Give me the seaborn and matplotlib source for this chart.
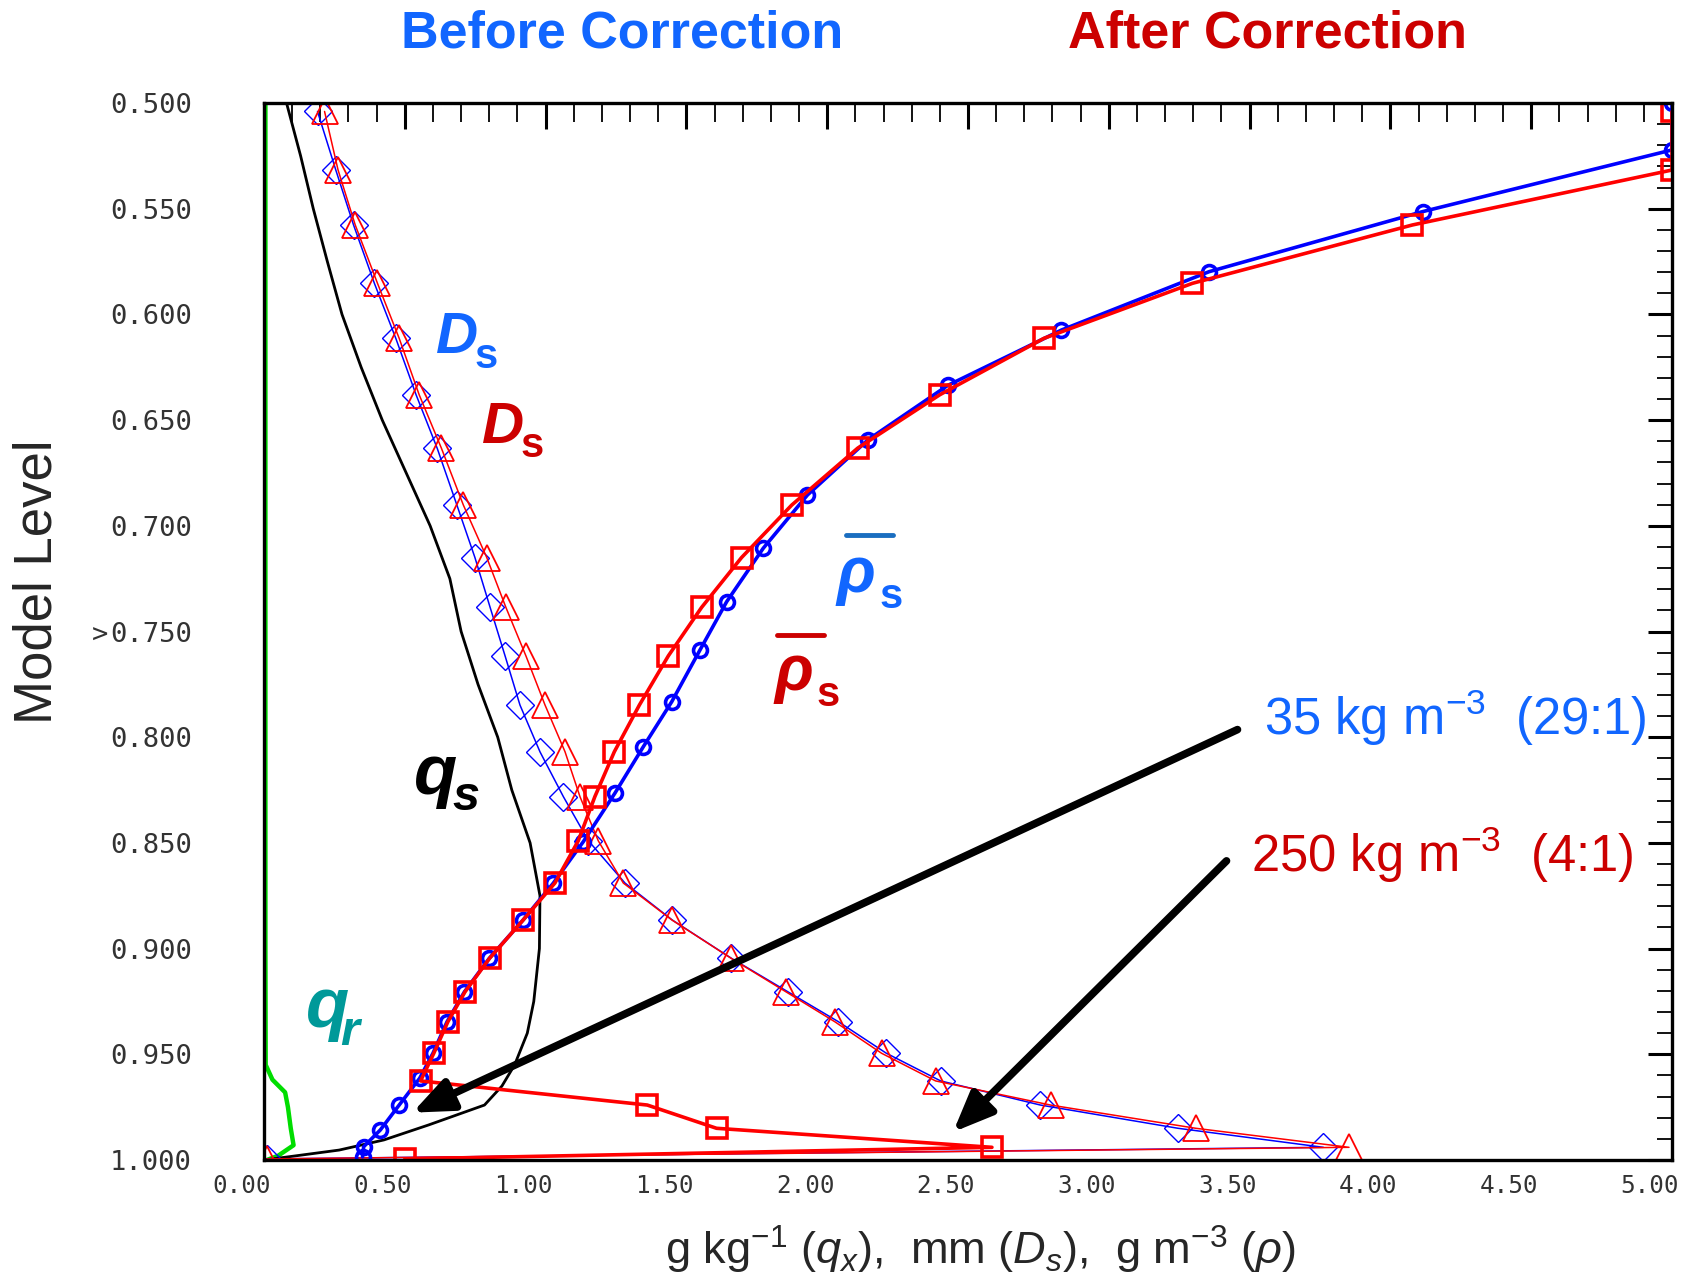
"""
Snow profile chart: before / after density correction.
"""

import numpy as np
import matplotlib
matplotlib.use('Agg')
import matplotlib.pyplot as plt
import matplotlib.transforms as mtrans
from matplotlib.ticker import MultipleLocator, FixedLocator, FixedFormatter
import seaborn as sns

#  Data
#  Model levels used by the "after" profiles and the D_s profiles
levels = [0.504, 0.5317, 0.5577, 0.5853, 0.6113, 0.638, 0.6633, 0.6902, 0.715,
          0.7386, 0.7615, 0.7848, 0.8069, 0.8281, 0.849, 0.869, 0.8865, 0.9046,
          0.9204, 0.9346, 0.9495, 0.9626, 0.974, 0.985, 0.994, 0.9995]

#  Mean snow density after correction (values past 5 are drawn at the edge)
rho_after = [5.0, 5.0, 4.078, 3.297, 2.770, 2.40, 2.108, 1.874, 1.696, 1.554,
             1.436, 1.333, 1.244, 1.175, 1.116, 1.033, 0.920, 0.801, 0.714,
             0.653, 0.603, 0.556, 1.361, 1.607, 2.585, 0.5]

#  Mean snow density before correction, on its own levels
rho_before_lev = [0.50, 0.5222, 0.5514, 0.5798, 0.6074, 0.6336, 0.6592, 0.6854,
                  0.7106, 0.7359, 0.7588, 0.7832, 0.8045, 0.8265, 0.8494, 0.8691,
                  0.8865, 0.9046, 0.9204, 0.9346, 0.9495, 0.9613, 0.974, 0.9858,
                  0.9937, 0.9985]
rho_before = [5.0, 5.0, 4.114, 3.356, 2.832, 2.428, 2.146, 1.93, 1.773, 1.643,
              1.548, 1.448, 1.347, 1.246, 1.134, 1.027, 0.92, 0.80, 0.712, 0.65,
              0.60, 0.553, 0.48, 0.413, 0.354, 0.35]

#  Snow diameter D_s
ds_after = [0.215, 0.263, 0.324, 0.403, 0.480, 0.551, 0.630, 0.708, 0.791, 0.859,
            0.930, 0.998, 1.069, 1.122, 1.187, 1.276, 1.449, 1.659, 1.853, 2.027,
            2.193, 2.385, 2.793, 3.309, 3.853, 0.01]
ds_before = [0.19, 0.255, 0.318, 0.392, 0.468, 0.54, 0.615, 0.685, 0.749, 0.803,
             0.856, 0.909, 0.980, 1.063, 1.152, 1.282, 1.45, 1.66, 1.86, 2.04,
             2.21, 2.403, 2.757, 3.246, 3.762, 0.01]

#  Snow mixing ratio q_s
qs_lev = [0.5, 0.525, 0.55, 0.575, 0.6, 0.625, 0.65, 0.675, 0.7, 0.725, 0.75,
          0.775, 0.8, 0.825, 0.85, 0.875, 0.9, 0.925, 0.94, 0.955, 0.965, 0.974,
          0.9834, 0.9905, 0.9953, 0.9984, 1.0]
qs = [0.08, 0.13, 0.175, 0.225, 0.277, 0.345, 0.42, 0.505, 0.59, 0.66, 0.70,
      0.76, 0.83, 0.88, 0.945, 0.98, 0.978, 0.958, 0.935, 0.89, 0.845, 0.783,
      0.585, 0.426, 0.267, 0.092, 0.0]

#  Rain mixing ratio q_r
qr_lev = [0.5, 0.9, 0.955, 0.962, 0.968, 0.975, 0.985, 0.993, 0.998, 1.0]
qr = [0.005, 0.005, 0.006, 0.03, 0.075, 0.085, 0.095, 0.105, 0.05, 0.01]

#  Tick labels
y_ticks = [0.50, 0.55, 0.60, 0.65, 0.70, 0.75, 0.80, 0.85, 0.90, 0.95, 1.00]
y_labels = ['0.500', '0.550', '0.600', '0.650', '0.700', '0.750', '0.800',
            '0.850', '0.900', '0.950', '1.000']
x_ticks = [0.0, 0.5, 1.0, 1.5, 2.0, 2.5, 3.0, 3.5, 4.0, 4.5, 5.0]
x_labels = ['0.00', '0.50', '1.00', '1.50', '2.00', '2.50', '3.00', '3.50',
            '4.00', '4.50', '5.00']

#  Colours
BLUE_TXT = '#1166ff'
RED_TXT = '#cc0000'

#%%
sns.set_style('white')
plt.rcParams['font.family'] = ['Liberation Sans', 'DejaVu Sans']
plt.rcParams['mathtext.fontset'] = 'custom'
plt.rcParams['mathtext.rm'] = 'Liberation Sans'
plt.rcParams['mathtext.it'] = 'Liberation Sans:italic'
plt.rcParams['mathtext.bf'] = 'Liberation Sans:bold'

W, H = 1702, 1278
fig = plt.figure(figsize=(W / 100, H / 100), dpi=100)
ax = fig.add_axes([264 / W, 1 - 1160 / H, (1672 - 264) / W, (1160 - 103) / H])

#  q_r and q_s
sns.lineplot(x=qr, y=qr_lev, sort=False, estimator=None, color='#00dd00',
             lw=3.2, ax=ax)
sns.lineplot(x=qs, y=qs_lev, sort=False, estimator=None, color='black',
             lw=2.0, ax=ax)

#  D_s before / after
sns.lineplot(x=ds_before, y=levels, sort=False, estimator=None, color='#0000ff',
             lw=1.1, marker='D', markersize=14, mfc='none', mec='#0000ff',
             mew=1.0, ax=ax)
sns.lineplot(x=ds_after, y=levels, sort=False, estimator=None, color='#ff0000',
             lw=1.1, marker='^', markersize=19, mfc='none', mec='#ff0000',
             mew=1.3, ax=ax)

#  rho before / after
sns.lineplot(x=rho_before, y=rho_before_lev, sort=False, estimator=None,
             color='#0000ff', lw=2.6, marker='o', markersize=10, mfc='none',
             mec='#0000ff', mew=2.6, ax=ax)
sns.lineplot(x=rho_after, y=levels, sort=False, estimator=None, color='#ff0000',
             lw=2.6, marker='s', markersize=14, mfc='none', mec='#ff0000',
             mew=2.6, ax=ax)

#  Axes
ax.set_xlim(0, 5)
ax.set_ylim(1.0, 0.5)
ax.set_xlabel('')
ax.set_ylabel('')
ax.xaxis.set_major_locator(FixedLocator(x_ticks))
ax.xaxis.set_major_formatter(FixedFormatter(x_labels))
ax.xaxis.set_minor_locator(MultipleLocator(0.1))
ax.yaxis.set_major_locator(FixedLocator(y_ticks))
ax.yaxis.set_major_formatter(FixedFormatter(y_labels))
ax.yaxis.set_minor_locator(MultipleLocator(0.01))
ax.tick_params(which='both', direction='in', top=True, right=True,
               color='black', labelcolor='#333333',
               labelfontfamily='DejaVu Sans Mono')
ax.tick_params(axis='x', which='major', length=19, width=2.2, pad=10,
               labelsize=17.5)
ax.tick_params(axis='x', which='minor', length=14, width=1.3)
ax.tick_params(axis='y', which='major', length=17, width=2.2, pad=52,
               labelsize=19.5)
ax.tick_params(axis='y', which='minor', length=11, width=1.3)
for sp in ax.spines.values():
    sp.set_linewidth(2.4)
    sp.set_color('black')

#  x tick labels sit a little left of their ticks in the original
shift = mtrans.ScaledTranslation(-0.22, 0, fig.dpi_scale_trans)
for lab in ax.get_xticklabels():
    lab.set_transform(lab.get_transform() + shift)

#  Arrows
ax.annotate('', xy=(0.527, 0.9776), xytext=(3.457, 0.7964),
            arrowprops=dict(arrowstyle='-|>,head_length=1.2,head_width=0.5',
                            mutation_scale=20, lw=5.5, color='black',
                            shrinkA=0, shrinkB=0))
ax.annotate('', xy=(2.447, 0.9868), xytext=(3.418, 0.8585),
            arrowprops=dict(arrowstyle='-|>,head_length=1.2,head_width=0.5',
                            mutation_scale=20, lw=5.5, color='black',
                            shrinkA=0, shrinkB=0))


def ftext(px, py, s, **kw):
    fig.text(px / W, 1 - py / H, s, **kw)


#  Titles and axis labels
ftext(622, 34, 'Before Correction', color=BLUE_TXT, fontsize=37.5,
      fontweight='bold', ha='center', va='center')
ftext(1268, 34, 'After Correction', color=RED_TXT, fontsize=37.5,
      fontweight='bold', ha='center', va='center')
ftext(38, 582, 'Model Level', rotation=90, fontsize=38, ha='center',
      va='center')
ftext(980, 1250, r'g kg$^{\mathregular{-1}}$ ($q_x$),  mm ($D_s$),  '
      r'g m$^{\mathregular{-3}}$ ($\rho$)', fontsize=32.5, ha='center',
      va='center')
ftext(92, 636, '>', fontsize=19.5, color='#333333', family='DejaVu Sans Mono',
      ha='left', va='center')

#  Curve labels
bi = dict(fontweight='bold', fontstyle='italic', ha='left', va='baseline')
bu = dict(fontweight='bold', ha='left', va='baseline')
ftext(436, 353, 'D', color=BLUE_TXT, fontsize=42, **bi)
ftext(474, 368, 's', color=BLUE_TXT, fontsize=30, **bu)
ftext(482, 443, 'D', color=RED_TXT, fontsize=42, **bi)
ftext(520, 457, 's', color=RED_TXT, fontsize=30, **bu)

ftext(836, 592, 'ρ', color=BLUE_TXT, fontsize=46, **bi)
ftext(880, 608, 's', color=BLUE_TXT, fontsize=30, **bu)
ftext(774, 690, 'ρ', color=RED_TXT, fontsize=46, **bi)
ftext(816, 706, 's', color=RED_TXT, fontsize=30, **bu)
#  Over-bars for the mean density labels
fig.add_artist(plt.Line2D([846 / W, 893 / W], [1 - 535 / H, 1 - 535 / H],
                          color='#1a6ec0', lw=3.5))
fig.add_artist(plt.Line2D([777 / W, 824 / W], [1 - 635 / H, 1 - 635 / H],
                          color=RED_TXT, lw=3.5))

ftext(414, 794, 'q', color='black', fontsize=51, **bi)
ftext(452, 810, 's', color='black', fontsize=35, **bi)
ftext(306, 1027, 'q', color='#009999', fontsize=51, **bi)
ftext(340, 1045, 'r', color='#009999', fontsize=35, **bi)

ftext(1264, 718, r'35 kg m$^{\mathregular{-3}}$  (29:1)', color=BLUE_TXT,
      fontsize=36.5, ha='left', va='center')
ftext(1251, 855, r'250 kg m$^{\mathregular{-3}}$  (4:1)', color=RED_TXT,
      fontsize=36.5, ha='left', va='center')

plt.savefig('out.png', dpi=100)
